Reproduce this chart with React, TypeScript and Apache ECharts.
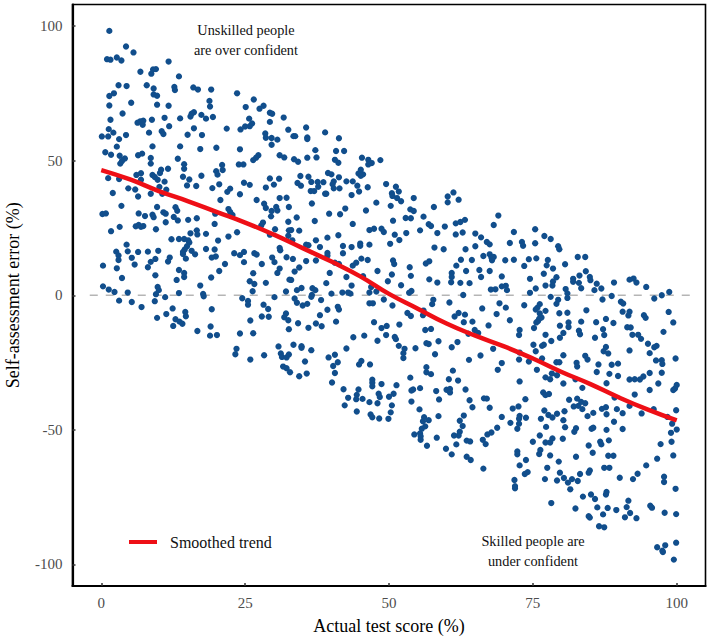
import React, { useEffect, useRef } from "react";
import * as echarts from "echarts";

type P = [number, number];

const xTicks = [0, 25, 50, 75, 100];
const yTicks = [-100, -50, 0, 50, 100];
const trendName = "Smoothed trend";
const xTitle = "Actual test score (%)";
const yTitle = "Self-assessment error (%)";
const noteUnskilled = "Unskilled people\nare over confident";
const noteSkilled = "Skilled people are\nunder confident";

const trend: P[] = [[0,46.5],[5,43],[10,38.7],[15,35],[20,31],[25,27],[30,22.5],[35,17.5],[40,12.5],[45,7],[50,0.5],[55,-5],[60,-10.5],[65,-15],[70,-19],[75,-23.5],[80,-28.5],[85,-33],[90,-38],[95,-42.5],[100,-46.5]];
const zeroLine: P[] = [[-2,0],[103,0]];

const pointsA: P[] = [[1.4,98.2],[4.3,92.4],[5.6,90.2],[1,87.7],[1.6,87.5],[2.7,88.3],[3.5,87.2],[11.7,86.8],[6.8,83],[9,83.9],[9.5,84],[8.7,82.3],[13.5,81.3],[3,78],[4.4,77.7],[7.9,78],[9.1,76.8],[12.7,77.4],[12.8,76.2],[16,77.2],[16.8,76.4],[19.1,76.4],[23.6,75],[2.2,75],[1.4,74],[9.1,74.6],[9.7,74.1],[26.5,72.7],[18.8,72.2],[5.2,71.5],[1.4,70.5],[9.7,70.8],[11.7,70.4],[18.9,70.1],[25.1,69.9],[28.2,70.4],[27.5,69.3],[3.7,67.5],[16.1,68],[15.7,67.4],[15.5,66.4],[17.4,67],[18.2,65.6],[19.4,66.2],[29.3,67.8],[29.7,67.4],[31.7,66],[1.6,65.2],[11,65.9],[13.7,65.7],[8.8,65.2],[7.3,64.8],[6.8,64.6],[6.3,64.1],[7.2,63.3],[25.7,65.6],[29.3,64.4],[26.2,63.8],[25.8,62.8],[25,62.7],[24.2,61.6],[21.8,61.9],[32.5,61.5],[11.8,62.8],[16.1,62],[1.3,61.7],[2.1,60.4],[0.1,59],[1.2,59],[4.3,59.5],[3.1,58],[8.3,60.4],[10.5,60.9],[10.8,59.9],[15,59.6],[17.5,59.5],[28.5,60.1],[28.6,58.5],[29.6,58.4],[30.6,57.8],[29.6,55.9],[2.7,55.2],[8.9,55.3],[13.7,55.3],[17.2,54.3],[20,54.8],[24.1,54.2],[0.7,53.1],[1.7,52.2],[3.2,51.8],[4.1,50.8],[3.6,49.9],[3.3,48.9],[6.4,52],[7.1,52.6],[8.6,51],[13.3,50.7],[14.4,48.7],[8.6,48.9],[27.3,52],[26.9,51.1],[26.4,50.2],[31,52],[31.8,51.2],[21,48.4],[23.9,48.6],[24.7,48.6]];

const pointsB: P[] = [[14.4,47],[11.6,47],[10.4,46.6],[10.2,45.4],[21.1,46.5],[19.97,46.1],[20.2,44.8],[6.1,44.7],[6.9,45.3],[8.9,44.7],[9.3,43.9],[9.8,42.9],[11,42.2],[6.9,42.9],[1.2,43.5],[3.1,43.2],[14.2,44],[15.3,43],[17.4,44.4],[14.9,40.8],[16.5,40.6],[24.8,41.8],[25.8,41],[20.5,41.2],[19.3,39.8],[29.3,43.4],[30.9,43.3],[30,41.1],[28.6,40],[22.4,39.6],[21.9,38.4],[24.1,37.5],[10.1,40.2],[11.3,39.2],[10.6,37.7],[8.6,37.7],[4.7,39.7],[5.9,39.3],[2,38],[6.4,36.7],[20.7,35.4],[27,35.4],[32.2,36.2],[31,36.1],[28.3,34],[28.6,32.4],[30.4,32.8],[29.6,31.3],[30.6,31.5],[29.5,29.3],[32.6,32.8],[3.5,33.2],[9.7,32.8],[12.9,32.7],[13.2,31.4],[0.2,30.2],[0.8,30.4],[6.5,30.4],[7.6,29.4],[8.9,29.9],[9.1,29],[10.8,30.8],[11.2,30.3],[11.2,27.1],[12.6,29.1],[13.3,27.8],[15.1,28],[16.6,28.6],[19.7,26.5],[19.8,30.3],[22.1,32],[22.4,30.9],[22.8,29.8],[28.1,27],[27.8,25.9],[30.2,24.5],[32.5,27.3],[32.6,24.1],[29.3,22.5],[32.5,22.1],[3.2,25.4],[1.7,23.8],[6,25.6],[6.5,26.1],[6.9,25.4],[7.3,25.7],[9.5,24.5],[15.5,23],[16.6,24.1],[16.7,22.6],[18.2,22.8],[23.6,23.4],[22.1,21.8],[12.2,20.8],[13.5,20.9],[14.4,20.9],[15.1,20.4],[15.3,19.6],[20.3,20.3],[4.4,18.8],[14.9,18.2],[14.5,17],[18.2,17.2],[19.7,17],[31,17.6],[31.1,16.7],[2.6,16.2],[4.6,16.3],[6.4,16.1],[8.1,16.2],[9.9,16.5],[14.2,16.1],[14.2,15.3],[15.7,16.5],[16.3,15.2],[23.1,15.6],[24.8,16.1],[24.1,14.9],[26.6,15.6],[27,15.1],[3,14.8],[3,13.1],[5.3,13.9],[9.4,13.5],[11.9,14],[11.6,12.5],[8.6,12.4],[14.7,13.6],[19.9,14.4],[19.2,14],[29.7,14],[30.1,12.3],[32.2,14.1],[24.8,12.3],[27.9,11.6],[21.5,11.6],[0.3,11],[5.8,11.4],[2.7,10],[8.1,10.4],[13.5,9.4],[20.5,9],[14.4,8.3],[14.4,6.8],[9.4,7.4],[3.6,6.4],[13.1,5.7],[19.1,6.6],[26.4,8.2],[31,9.9],[30.6,8.3],[25.8,5.2],[26.6,4.2],[28.6,4.6],[32.7,5.8],[17.2,3.6],[0.3,3.3],[1.3,2.1],[2.3,1.2],[4.6,1],[9.8,3.1],[10,1.9],[9.5,0.4],[13.5,0.8],[17.7,0.5],[17.8,-0.4],[26.3,1.5],[32.1,1.4],[11.1,-0.7],[24.5,-1.1],[30.1,-0.7],[3.1,-2],[5.3,-2.5],[9.3,-2.2],[25.5,-2.1],[25.5,-3.5],[7,-4.4],[12.4,-4.9],[19.2,-5.2],[28.2,-3.5],[29,-5.1],[14.6,-6.2],[11.3,-7],[14.7,-7.8],[9.7,-8.4],[12.9,-8.9],[13.6,-9.8],[14.1,-10.6],[27.9,-7.9],[29.1,-8],[32.1,-6.8],[31.8,-8.2],[32.5,-9.3],[25.9,-9.4],[12.5,-11.4],[19,-11.6],[16.7,-13.3],[32.6,-12.6],[18.9,-15],[20.1,-14.8],[24.1,-14.2],[26.4,-14.1],[30.8,-19],[23.5,-19.9],[23.3,-21.9],[28.3,-22.3],[31.2,-21.6],[31.4,-22.9],[32.2,-23.1],[25.9,-23.9],[31.6,-26.5]];

const pointsC: P[] = [[35.6,62.3],[38.9,60.5],[33.4,59.1],[33.7,59.1],[35.8,58.6],[35.8,58],[41.3,58.3],[37.2,53.9],[40.8,53.6],[42.2,53.6],[33.5,50.5],[34.2,49.6],[35.8,51.1],[37.4,51.2],[40.6,50.3],[41.2,49.2],[45.3,51.1],[46.4,50.3],[47,49.1],[46.4,48.6],[48.5,50.2],[45.1,46.6],[44.7,45.2],[45.5,44.9],[45.1,44.4],[39.4,45.4],[40,44.9],[34.6,44.3],[36,44],[41.3,43.8],[34.1,41.7],[34.7,40.7],[36.5,42.1],[37.6,42.1],[38.6,42],[40.4,42.3],[40.2,41.2],[37.7,40.3],[40.4,39.7],[41.4,39.7],[42.6,42.3],[43.7,42.3],[44.5,40.7],[46.3,40.1],[44.8,38.5],[49.5,41.3],[51.2,40.3],[51.7,38.5],[50.5,37.9],[50.6,36.9],[51.4,36.1],[52.1,34.9],[36.4,38.7],[37,38.7],[38.9,37.7],[39.1,37.7],[43.5,37.2],[61.2,38.2],[60.2,36.7],[62.1,35.5],[60.2,34.5],[54.3,36.1],[36.6,34.1],[47.8,34.4],[50.3,33.2],[57.8,32.8],[42.4,32.2],[46,31.5],[53.7,31.9],[54.3,31.3],[39.6,30.3],[41.5,30.1],[33.96,28.9],[52.9,28.7],[53.8,28.6],[56,29.2],[37.1,27.6],[50.7,27.7],[43.7,26.5],[63.2,28],[62.4,27.2],[61.6,26.7],[56.9,26.4],[57.3,25.7],[59.7,25.5],[46.6,24.2],[47.4,24.7],[48.7,24.7],[49.1,23.5],[33,24.2],[34.4,24],[53,23.1],[55.4,24.1],[51,22.5],[58.4,23.1],[61.6,22.6],[62.8,23.3],[65,22.9],[66,21.5],[33.2,20.4],[41.2,22.3],[39.3,21.4],[37.3,20.4],[51.8,20.5],[50.2,19.1],[35.6,18.8],[36,18.6],[38,17.9],[42,18.3],[43.5,17.9],[45,19.2],[45,18.4],[46.6,18.8],[57.9,17.7],[59.5,17.1],[63.3,17.1],[65,18.2],[66.4,14.6],[39.3,15.7],[42,15.6],[39.3,14.7],[33.3,13.5],[35.6,12.7],[37.3,12.9],[45.2,13.6],[46.3,13.1],[50.7,12.9],[50.9,11.6],[57,12.6],[56.4,11.8],[62.5,13.2],[64.4,13.1],[61.7,11],[40.6,12.1],[41.3,11.6],[44.3,12.1],[43.7,11],[34.4,10.3],[33.6,8.8],[53.6,10.4],[63.4,9],[65.7,9.4],[39.7,8.3],[48,9],[60.9,8.3],[66,6.8],[50.5,7.7],[53.8,7.2],[60.9,6.8],[33,5.7],[42.6,6.8],[45.5,7.1],[57,5.9],[60.8,4.8],[62.4,4.6],[64,4.5],[58.4,4.7],[39.1,4.5],[49.8,5.2],[52.1,3.7],[43.5,3.6],[34.8,2.7],[34,1.9],[36.7,2.6],[37.2,1.9],[46.9,3.1],[47.8,1.4],[46.6,1],[53.9,1.6],[53.5,0.9],[40,0.6],[41.9,1],[42.9,1],[43.3,0.6],[62.9,0.1],[33.6,-1.2],[36.6,0.1],[49.1,-1.6],[38.2,-1.8]];

const pointsD: P[] = [[34,-2.8],[35,-3.8],[35.8,-3.2],[36.5,-0.6],[39.3,-5.4],[38,-7.4],[41.1,-4.3],[41.3,-5.3],[40.8,-9.8],[34.2,-10.4],[36,-12.1],[37.3,-10.5],[38.3,-11.5],[46.6,-3],[47.2,-3],[50.6,-3.8],[57.5,-3.3],[57.7,-1.7],[60.5,-2.7],[66.2,-4.9],[53.2,-6.6],[53.8,-7.7],[55.9,-7.4],[56,-5.7],[62.1,-6.6],[63.2,-7.2],[61.4,-7.9],[63,-10],[64.5,-9.8],[47.4,-10],[51.8,-10.9],[49.6,-11.4],[48.7,-12.2],[56.3,-12.9],[57.3,-12.5],[64.9,-12.9],[63.8,-14.3],[65.5,-14],[43.8,-15.6],[45.7,-15],[49.5,-14.8],[51,-15.5],[51.2,-16.3],[48,-16.9],[58.6,-17.1],[56.5,-17.8],[56.9,-18.1],[61.9,-17.4],[60.9,-19.3],[33.4,-18.4],[34.8,-18.9],[34.8,-19.5],[36.5,-20.4],[42.6,-19.8],[51.7,-18.8],[52.7,-19.9],[54.6,-19.7],[52.5,-21.5],[52.5,-23.3],[58,-21.9],[65.9,-22.4],[63.9,-24],[32.6,-22],[39.5,-23.1],[40.6,-22.1],[41.1,-24.9],[40.3,-26.3],[35.4,-24.6],[45.2,-24.4],[44.8,-25.7],[46.7,-25.7],[32.2,-27.1],[32.8,-28.6],[34.4,-30.1],[35.7,-29.1],[40.6,-28.9],[56.5,-26.7],[56.5,-28.6],[57.3,-29.3],[61.1,-28],[53.7,-30.6],[60.4,-31.2],[62,-31.7],[40.1,-32.4],[47.1,-31.4],[47.1,-32.5],[47.1,-33.8],[48.7,-33],[51.3,-33.4],[55.4,-34.5],[54.2,-35],[53.9,-35.4],[58.2,-35.6],[60,-35.1],[60.6,-34.8],[60.6,-36.1],[63.3,-35],[42.1,-34.9],[44.7,-35],[42.9,-38.1],[44.4,-37],[44.3,-38.6],[45.4,-38.5],[48.2,-36.6],[48.4,-37.8],[50,-37.7],[50.8,-36.6],[46.6,-39.7],[48,-40.1],[42.3,-40.9],[50.5,-40.9],[44.4,-43.2],[53.9,-39.5],[58.7,-38.7],[64,-39],[64.5,-41.6],[66.5,-38.3],[55.3,-42.4],[50.3,-43.5],[46.8,-44.3],[47.1,-45.3],[48.3,-45.8],[49.9,-45.9],[58.6,-44.9],[63,-44.7],[56.1,-45.3],[55.9,-46.8],[56.9,-46.4],[62.3,-46.6],[62.8,-48.6],[56.3,-48.7],[55.7,-49.6],[54.4,-51.7],[55.4,-51.3],[55.5,-52.4],[55.5,-53.7],[62.3,-50.7],[62.1,-52.1],[61.3,-52.1],[58.3,-52.9],[63.5,-54],[64.1,-54.3],[66.3,-53.7],[61.7,-55.4],[56.6,-55.9],[59.9,-57],[60.9,-59.1],[63.5,-60],[64.2,-61.2],[66.4,-64.4]];

const pointsE: P[] = [[69,29.6],[68.2,26.1],[75.4,24.5],[71.7,23.5],[77,22],[78.1,20.9],[67,19.8],[67.5,18.9],[71,19.4],[73.1,19.8],[73.3,18.4],[75.4,19.3],[79.4,18.2],[79.6,17.1],[67.5,15.2],[67.8,14],[67.9,13],[68.2,14.2],[70.2,13],[71.7,13.2],[74.3,13.4],[75.6,13.7],[77.6,13.1],[77.4,11.1],[73.5,10.9],[80.6,11.5],[82.8,14.2],[84.1,14.2],[78.5,9.9],[67.5,9],[69.6,7],[74.5,6.1],[76.9,8],[84.2,8.9],[83.1,7.3],[84.9,6.8],[85,5.6],[79.1,6.7],[78.5,5.1],[82,6.1],[82,5],[83,4.6],[86.1,4.3],[89.1,4.7],[91.8,5.8],[92.5,6.2],[93,4.7],[94.7,3.1],[78.4,3.6],[77.2,3.6],[83.4,2.6],[69.6,3.3],[70.3,3.5],[70.5,1.9],[68.5,2.2],[67.7,2.1],[75.5,2.5],[74.5,0.9],[80.7,2.3],[81,0.7],[85.7,1.9],[86.9,2.5],[98.7,1.2],[97.4,0],[96.1,-1.2],[88.7,-0.3],[81,-1],[78.1,-0.6],[79.4,-1.7],[79.1,-3.2],[87.1,-1.6],[90.3,-2.4],[90.7,-3.1],[69.2,-3],[73.5,-3.7],[76.2,-3.3],[75.8,-4.6],[75.5,-5.3],[70.3,-4.6],[77.2,-5.8],[84.3,-5.6],[79.6,-6.7],[81,-6.5],[68.7,-7],[76.2,-6.8],[76.1,-8.7],[76.5,-8.3],[90.6,-6.1],[91.8,-6.1],[91.6,-7.5],[98.6,-6.2],[94.3,-7.4],[94.6,-8.4],[87.7,-8.8],[71,-9.3],[75.9,-9.6],[75.6,-10.1],[83.4,-9.8],[86,-10],[89,-10.3],[99.4,-10.1],[81.2,-10.1],[81.2,-11.8],[79.7,-11.3],[67.3,-11.2],[75.2,-12.2],[87.2,-12.6],[91.4,-11.9],[92,-12],[83,-13.2],[72.7,-12.9],[97.7,-13.6],[80.3,-14],[72.6,-14.8],[77.2,-14.7],[83.2,-14.5],[87.4,-14.8],[92.3,-14.7],[93.3,-14.7],[79.7,-15.8],[85.8,-15.8],[93.8,-16.2],[78.2,-17],[95,-18],[75.1,-18.4],[76.9,-18.4],[76.6,-18.8],[96.5,-18.8],[96.1,-19.3],[87.7,-19.2],[68.1,-19.9],[91.8,-20.5],[87.3,-20.8],[88.1,-21.6],[75.5,-20.8],[72.7,-21.3],[95.3,-21.5],[80.3,-22.3],[84.1,-22.5],[84.5,-23.9],[72.6,-23.9],[76.6,-23.5],[74.3,-24.6],[99.8,-23.5],[96.4,-24.2],[97.4,-24.1],[97.5,-25.5],[79.1,-24.9],[79.6,-24.9],[69.6,-25.2],[82.6,-25.1],[82.7,-26.5],[86.4,-25.7],[88.7,-25.8],[89.8,-25.4],[68.9,-27.7],[75.7,-27.7],[86.1,-28.5],[95.3,-28.9],[97.4,-28.8],[78.3,-29.1],[79.2,-29.7],[88.3,-29.2],[89.8,-30],[94.2,-30.2],[77.2,-30.5],[78,-31.2],[91.8,-31.3],[92.7,-31.2],[93.6,-31.3],[72.7,-32],[80.3,-32.8],[82.4,-31.2],[87.8,-32.7],[96.8,-32.8],[100,-33.3],[99.7,-34.6],[83.6,-34.4],[95.3,-35.2],[99.4,-35.2]];

const pointsF: P[] = [[76.8,-36.1],[77.2,-37.1],[77.8,-36.7],[92.7,-36.9],[67,-38.4],[73.7,-38.6],[81.3,-38.8],[82.7,-38.4],[89.2,-38],[83.4,-39.6],[84.1,-40.1],[82.1,-41.3],[82.9,-41.1],[83.6,-42.3],[91.8,-41.1],[67.5,-41.8],[71.5,-42.1],[72.5,-41.3],[87.7,-41.6],[87,-42.2],[89.6,-42.3],[96,-42.3],[99.9,-42.7],[77,-42.8],[80.5,-43.1],[79.2,-44],[77.7,-44.5],[78.4,-45.4],[85.5,-43.7],[84.5,-44.9],[87.8,-44.2],[90.6,-43.8],[93.9,-43.9],[69.6,-45.2],[72.7,-44.8],[72.6,-45.9],[73.8,-45.5],[76.4,-45.9],[80.3,-46.4],[89.1,-47],[98.4,-45.2],[71.1,-47.4],[72.6,-47.7],[99.2,-47.7],[68.8,-49.2],[72.3,-49.6],[77.3,-48.9],[80.6,-49],[82.5,-49.4],[82.2,-50.7],[85.2,-49.6],[85.5,-49.2],[87.8,-50],[90.6,-49.7],[100,-49.9],[99,-51.1],[67.8,-51],[67.1,-51.7],[66.8,-55.3],[76.2,-52.1],[78.4,-53.2],[80.2,-53.3],[75,-54.4],[77.2,-54.7],[78,-54.7],[86.7,-54.4],[86.9,-55.4],[88.2,-53.9],[99.1,-54.4],[97.2,-55.3],[84.7,-55.8],[76.3,-57.5],[76.1,-59],[72.3,-58],[72.3,-59.1],[85.4,-58.5],[88.1,-59.6],[89,-59.6],[99.4,-59.5],[78,-59.5],[82.5,-60],[73.8,-61.2],[96.6,-60.7],[79.5,-61.8],[72.7,-63.2],[94.7,-63.2],[77.5,-64.1],[87.4,-64.1],[88.3,-64.1],[84.9,-65.1],[84.7,-65.9],[74.1,-65.7],[73.6,-66.4],[79.7,-65.9],[83.2,-66.4],[93.2,-66.3],[97.8,-67.4],[97.8,-69.4],[80.4,-67.9],[81.8,-68.3],[90.1,-67.8],[92.4,-68.3],[77.1,-68.3],[79.2,-68.8],[81.1,-69.6],[82.8,-69],[71.8,-68.6],[71.9,-70.9],[71.9,-71.7],[81.5,-72.1],[99.8,-71.9],[87.8,-73.1],[87.7,-74],[85.1,-74],[83.7,-74.8],[85.8,-75.7],[91.6,-76.3],[78.2,-77.2],[91.3,-78.7],[95.4,-78.2],[95.7,-78.9],[86.2,-78.8],[88,-79],[82.4,-79.2],[89.5,-79.8],[91.9,-80.9],[87.2,-81.4],[84.7,-82.1],[84.9,-82.6],[91,-82.5],[93,-82.8],[97.9,-80.8],[99.9,-81.3],[86.5,-85.8],[87.4,-86.2],[99.9,-91.9],[98,-92.9],[96.6,-93.6],[97.5,-94.9],[97.6,-95.4],[99.5,-98.2]];

const points: P[] = [...pointsA, ...pointsB, ...pointsC, ...pointsD, ...pointsE, ...pointsF];

const serif = '"Liberation Serif", "Times New Roman", serif';

export default function App() {
  const ref = useRef<HTMLDivElement>(null);
  useEffect(() => {
    const chart = echarts.init(ref.current!, undefined, { renderer: "svg" });
    const axisCommon = {
      type: "value" as const,
      nameLocation: "middle" as const,
      splitLine: { show: false },
      axisLine: { show: true, onZero: false, lineStyle: { color: "#000", width: 2.2 } },
      nameTextStyle: { fontFamily: serif, fontSize: 18, color: "#000" },
    };
    const note = (text: string, cx: number, top: number) => ({
      type: "text",
      x: cx,
      y: top,
      style: { text, fontFamily: serif, fontSize: 14.3, lineHeight: 20, fill: "#111", align: "center", verticalAlign: "top" },
    });
    chart.setOption({
      animation: false,
      backgroundColor: "#fff",
      grid: { left: 72.5, right: 5.5, top: 4.5, bottom: 51, show: true, outerBoundsMode: "none", borderColor: "#000", borderWidth: 1.6, backgroundColor: "transparent" },
      xAxis: {
        ...axisCommon,
        min: -5,
        max: 105,
        name: xTitle,
        nameGap: 31,
        axisTick: { show: true, inside: true, length: 3, customValues: xTicks, lineStyle: { color: "#333", width: 1.5 } },
        axisLabel: { customValues: xTicks, fontFamily: serif, fontSize: 15, color: "#4d4d4d", margin: 9 },
      },
      yAxis: {
        ...axisCommon,
        min: -108,
        max: 108,
        name: yTitle,
        nameGap: 51,
        axisTick: { show: true, inside: true, length: 3, customValues: yTicks, lineStyle: { color: "#333", width: 1.5 } },
        axisLabel: { customValues: yTicks, fontFamily: serif, fontSize: 15, color: "#4d4d4d", margin: 10 },
      },
      legend: {
        show: true,
        data: [{ name: trendName, icon: "rect" }],
        left: 129,
        top: 534,
        itemWidth: 28,
        itemHeight: 4,
        itemGap: 0,
        padding: 0,
        textStyle: { fontFamily: serif, fontSize: 16, color: "#111", padding: [0, 0, 0, 8] },
      },
      series: [
        {
          type: "line",
          data: zeroLine,
          symbol: "none",
          silent: true,
          lineStyle: { color: "#b5b5b5", width: 1.6, type: [8, 8] },
          z: 1,
        },
        {
          type: "scatter",
          data: points,
          symbolSize: 6.3,
          itemStyle: { color: "#114e8c", opacity: 1 },
          z: 2,
        },
        {
          type: "line",
          name: trendName,
          data: trend,
          smooth: true,
          symbol: "none",
          lineStyle: { color: "#ee0f16", width: 4.5 },
          itemStyle: { color: "#ee0f16" },
          z: 3,
        },
      ],
      graphic: [note(noteUnskilled, 246, 20), note(noteSkilled, 533, 531)],
    });
    return () => chart.dispose();
  }, []);
  return <div ref={ref} style={{ position: "absolute", left: 0, top: 0, width: 711, height: 637 }} />;
}
